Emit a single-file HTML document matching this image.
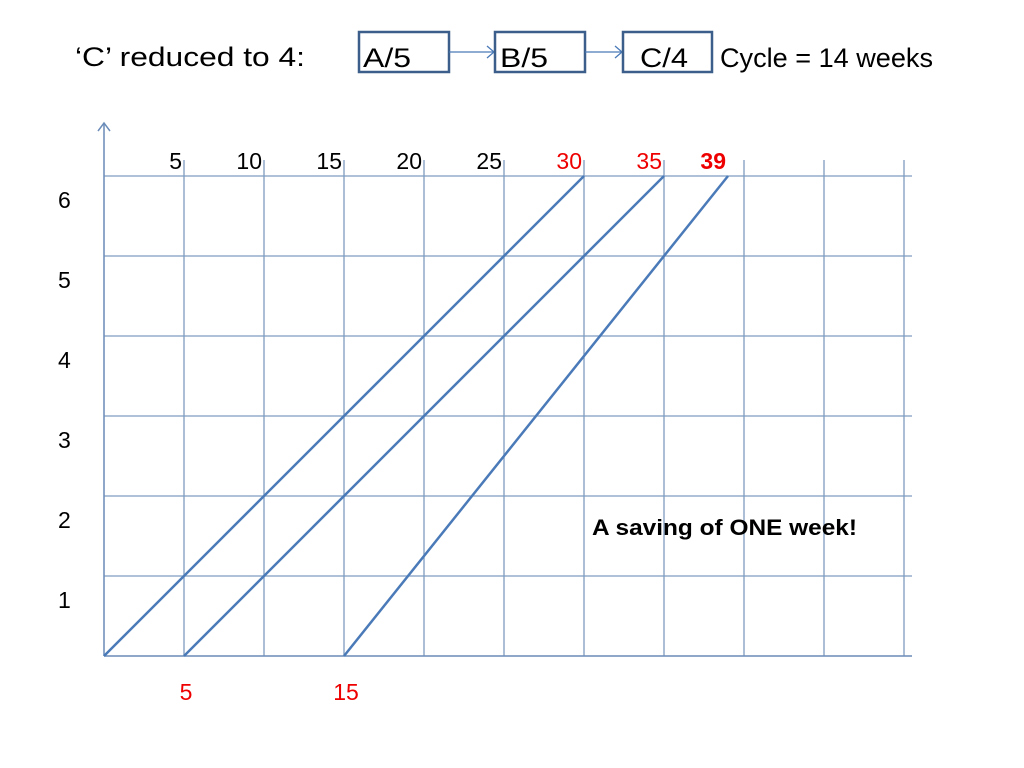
<!DOCTYPE html>
<html><head><meta charset="utf-8"><style>
html,body{margin:0;padding:0;background:#fff;}
svg{display:block;font-family:"Liberation Sans",Calibri,sans-serif;}
</style></head><body>
<svg id="chart" width="1024" height="768" viewBox="0 0 1024 768">
<g>
<text x="75" y="66" font-size="27" textLength="230" lengthAdjust="spacingAndGlyphs">‘C’ reduced to 4:</text>
<rect x="359" y="32" width="90" height="40" fill="none" stroke="#3b5f8a" stroke-width="2.5"/>
<text x="363" y="67" font-size="27" textLength="48" lengthAdjust="spacingAndGlyphs">A/5</text>
<line x1="449" y1="52" x2="494" y2="52" stroke="#4a7ab8" stroke-width="1.3"/>
<polyline points="487,46 494,52 487,58" fill="none" stroke="#4a7ab8" stroke-width="1.3"/>
<rect x="495" y="32" width="90" height="40" fill="none" stroke="#3b5f8a" stroke-width="2.5"/>
<text x="500" y="67" font-size="27" textLength="48" lengthAdjust="spacingAndGlyphs">B/5</text>
<line x1="585" y1="52" x2="622" y2="52" stroke="#4a7ab8" stroke-width="1.3"/>
<polyline points="615,46 622,52 615,58" fill="none" stroke="#4a7ab8" stroke-width="1.3"/>
<rect x="623" y="32" width="89" height="40" fill="none" stroke="#3b5f8a" stroke-width="2.5"/>
<text x="640" y="67" font-size="27" textLength="48" lengthAdjust="spacingAndGlyphs">C/4</text>
<text x="720" y="67" font-size="27" textLength="213" lengthAdjust="spacingAndGlyphs">Cycle = 14 weeks</text>
</g>
<g id="grid"></g>
<g id="marks"></g>
<text x="592" y="535" font-size="22" font-weight="bold" textLength="265" lengthAdjust="spacingAndGlyphs">A saving of ONE week!</text>
</svg>
<script>
const xTicks=[5,10,15,20,25,30,35,39];
const xTickColors=["#000","#000","#000","#000","#000","#e00","#e00","#e00"];
const yTicks=[1,2,3,4,5,6];
const startWeeks=[0,5,15];
const endWeeks=[30,35,39];
const bottomLabels=[5,15];
const X0=104,Y0=656,PX=16,PY=80;
const sx=w=>X0+w*PX, sy=v=>Y0-v*PY;
const NS="http://www.w3.org/2000/svg";
function mk(p,t,a){const e=document.createElementNS(NS,t);for(const k in a)e.setAttribute(k,a[k]);p.appendChild(e);return e;}
const g=document.getElementById('grid'),m=document.getElementById('marks');
const gc="#7f9cc0";
for(let w=5;w<=50;w+=5){
 const l=mk(g,'line',{x1:sx(w),y1:160,x2:sx(w),y2:Y0,stroke:gc,'stroke-width':1.3});
 
 
}
for(let v=1;v<=6;v++){
 const l=mk(g,'line',{x1:X0,y1:sy(v),x2:912,y2:sy(v),stroke:gc,'stroke-width':1.3});
 
 
}
const ax=mk(g,'line',{x1:X0,y1:Y0,x2:912,y2:Y0,stroke:"#6a8cb8",'stroke-width':1.5});


const ay=mk(g,'line',{x1:X0,y1:Y0,x2:X0,y2:123,stroke:"#6a8cb8",'stroke-width':1.5});


mk(g,'polyline',{points:`${X0-6},131 ${X0},123 ${X0+6},131`,fill:'none',stroke:"#6a8cb8",'stroke-width':1.5});
xTicks.forEach((t,i)=>{
 const e=mk(g,'text',{x:sx(t)-2,y:169,'font-size':23,'text-anchor':'end',fill:xTickColors[i],'font-weight':t===39?'bold':'normal'});
 e.textContent=t;
 
 
});
yTicks.forEach(v=>{
 const e=mk(g,'text',{x:58,y:sy(v)+32,'font-size':23});
 e.textContent=v;
 
 
});
bottomLabels.forEach(t=>{
 const e=mk(g,'text',{x:sx(t)+2,y:700,'font-size':23,'text-anchor':'middle',fill:'#e00'});
 e.textContent=t;
 
 
});
startWeeks.forEach((s,i)=>{
 const l=mk(m,'line',{x1:sx(s),y1:sy(0),x2:sx(endWeeks[i]),y2:sy(6),stroke:"#4a7ab8",'stroke-width':2.5});
 
 
});
</script>
</body></html>
